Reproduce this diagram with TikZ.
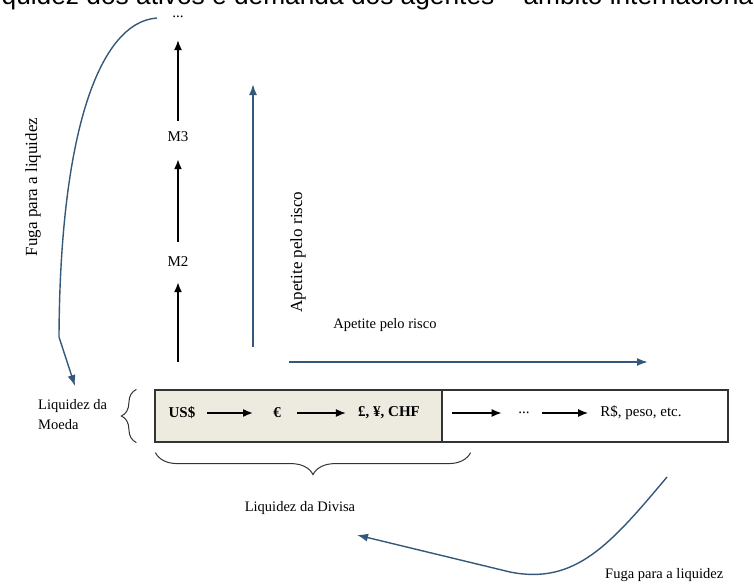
\documentclass[tikz,border=0pt]{standalone}
\usepackage{fontspec}
\setmainfont{Liberation Serif}
\newfontfamily\titulofont{Liberation Sans}
\usetikzlibrary{arrows.meta,positioning,decorations.pathreplacing}
\definecolor{azulSeta}{HTML}{34587A}
\definecolor{begeFaixa}{HTML}{EDEAE0}
\tikzset{
  rotulo/.style={inner sep=0pt, font=\fontsize{14.5}{20}\selectfont},
  rotuloV/.style={inner sep=0pt, rotate=90, font=\fontsize{17}{20}\selectfont},
  moeda/.style={inner sep=0pt, font=\fontsize{15}{18}\selectfont},
  faixa/.style={draw=black!80, line width=1.2pt, minimum height=52pt, inner sep=0pt},
  setapreta/.style={-{Latex[length=10pt,width=8pt]}, line width=1.6pt},
  setaazul/.style={-{Latex[length=11pt,width=8pt]}, line width=1.8pt, draw=azulSeta},
  chave/.style={decorate, decoration={brace, amplitude=#1}, line width=1pt, draw=black!80},
}

\begin{document}
\begin{tikzpicture}[x=1pt,y=-1pt]
\useasboundingbox (0,0) rectangle (754,586);
\clip (0,0) rectangle (754,586);
% titulo (cortado em cima)
\node[anchor=base west, inner sep=0pt, font=\titulofont\fontsize{26.3}{30}\selectfont] (titulo) at (-19,5) {Liquidez dos ativos e demanda dos agentes – âmbito internacional};

% faixa de moedas
\node[faixa, fill=begeFaixa, minimum width=287pt] (faixaA) at (298.5,416) {};
\node[faixa, minimum width=286pt] (faixaB) at (585,416) {};
\node[moeda, font=\fontsize{15}{18}\selectfont\bfseries] (usd) at (182,413) {US\$};
\node[moeda, font=\fontsize{15}{18}\selectfont\bfseries] (euro) at (277,413) {€};
\node[moeda, font=\fontsize{15}{18}\selectfont\bfseries] (gbp) at (389,413) {£, ¥, CHF};
\node[moeda] (pts) at (524,413) {...};
\node[moeda] (brl) at (641,413) {R\$, peso, etc.};
\draw[setapreta, shorten <=11.7pt, shorten >=20pt] (usd) -- (euro);
\draw[setapreta, shorten <=16pt, shorten >=12pt] (euro) -- (gbp);
\draw[setapreta, shorten <=32pt, shorten >=16.5pt] (gbp) -- (pts);
\draw[setapreta, shorten <=12.5pt, shorten >=12pt] (pts) -- (brl);

% agregados monetarios
\node[moeda] (m2) at (178,262) {M2};
\node[moeda] (m3) at (178,137) {M3};
\node[moeda] (topo) at (178,17) {...};
\coordinate (base) at (178,362);
\draw[setapreta, shorten >=15pt] (base) -- (m2);
\draw[setapreta, shorten <=15pt, shorten >=17pt] (m2) -- (m3);
\draw[setapreta, shorten <=11pt, shorten >=22pt] (m3) -- (topo);

% apetite pelo risco
\coordinate (riscoV0) at (253,347);
\coordinate (riscoV1) at (253,84);
\coordinate (riscoH0) at (289,362);
\coordinate (riscoH1) at (648,362);
\draw[setaazul] (riscoV0) -- (riscoV1);
\draw[setaazul] (riscoH0) -- (riscoH1);
\node[rotuloV] (apetiteV) at (298,252) {Apetite pelo risco};
\node[rotulo] (apetiteH) at (385,325) {Apetite pelo risco};

% liquidez
\node[rotulo, align=left, anchor=west] (liqMoeda) at (38,415) {Liquidez da\\Moeda};
\node[rotulo] (liqDivisa) at (300,508) {Liquidez da Divisa};
\draw[chave=15pt] ([xshift=-18pt]faixaA.south west) -- ([xshift=-18pt]faixaA.north west);
\draw[chave=22pt] ([xshift=28pt, yshift=-10pt]faixaA.south east) -- ([xshift=1pt, yshift=-10pt]faixaA.south west);

% fuga para a liquidez
\node[rotuloV] (fugaV) at (33,187) {Fuga para a liquidez};
\node[rotulo, anchor=west] (fugaH) at (605,575) {Fuga para a liquidez};
\coordinate (fugaIni) at (157,18);
\coordinate (fugaDobra) at (59,337);
\coordinate (fugaFim) at (75,386);
\draw[setaazul, line width=1.4pt] (fugaIni) .. controls (100,22) and (60,130) .. (fugaDobra) -- (fugaFim);
\coordinate (volta0) at (667,477);
\coordinate (voltaDobra) at (510,572);
\coordinate (volta1) at (357,535);
\draw[setaazul, line width=1.4pt] (volta0) .. controls (610,545) and (575,585) .. (voltaDobra) -- (volta1);
\end{tikzpicture}
\end{document}
